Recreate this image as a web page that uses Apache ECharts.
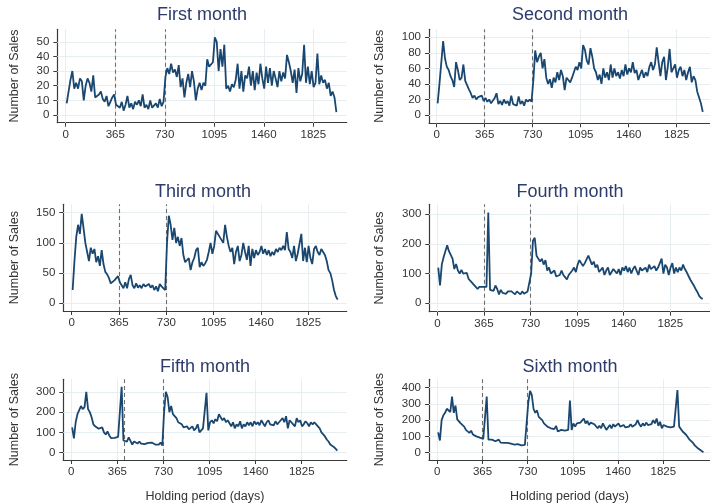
<!DOCTYPE html>
<html><head><meta charset="utf-8">
<script src="https://cdn.jsdelivr.net/npm/echarts@6/dist/echarts.min.js"></script>
<style>html,body{margin:0;padding:0;background:#fff}#c{width:710px;height:504px}</style>
</head><body><div id="c"></div>
<script>
// holding period (days), sampled every two weeks
const days = [7,21,35,49,63,77,91,105,119,133,147,161,175,189,203,217,231,245,259,273,
287,301,315,329,343,357,371,385,399,413,427,441,455,469,483,497,511,525,539,553,
567,581,595,609,623,637,651,665,679,693,707,721,735,749,763,777,791,805,819,833,
847,861,875,889,903,917,931,945,959,973,987,1001,1015,1029,1043,1057,1071,1085,1099,1113,
1127,1141,1155,1169,1183,1197,1211,1225,1239,1253,1267,1281,1295,1309,1323,1337,1351,1365,1379,1393,
1407,1421,1435,1449,1463,1477,1491,1505,1519,1533,1547,1561,1575,1589,1603,1617,1631,1645,1659,1673,
1687,1701,1715,1729,1743,1757,1771,1785,1799,1813,1827,1841,1855,1869,1883,1897,1911,1925,1939,1953,
1967,1981,1995,2009,2023,2037,2051,2065,2079,2093,2107,2121,2135,2149];

const month1 = [8,16,24,30,18,22,18,25,23,10,20,25,22,16,27,12,13,14,16,11,
9,13,6,9,12,14,7,8,5,9,3,7,13,5,8,4,9,7,10,6,
14,5,7,4,10,5,6,8,5,11,6,9,26,32,28,35,29,31,26,34,
19,25,12,22,28,19,30,23,10,18,22,17,22,20,38,33,32,36,53,50,
30,45,33,48,18,20,16,21,19,24,35,18,30,16,27,25,33,20,30,17,
29,21,35,25,18,33,22,32,20,30,25,19,30,23,29,25,41,36,30,22,
31,15,32,23,28,48,22,33,21,30,19,22,42,21,27,22,24,18,22,13,
16,12,2];

const month2 = [15,40,42,95,73,62,58,50,45,36,68,58,45,48,65,44,46,33,28,22,
25,20,23,21,25,18,22,17,20,15,17,22,28,14,18,13,20,15,18,12,
25,14,16,12,24,14,18,12,20,17,20,17,45,83,68,75,80,60,72,48,
40,46,35,48,42,55,45,58,50,32,48,45,42,48,55,62,58,68,60,90,
84,70,65,86,75,60,55,45,52,40,60,48,55,45,65,48,60,50,55,47,
58,50,65,52,60,55,68,54,58,45,52,58,48,55,50,62,68,58,65,87,
68,50,68,75,45,62,85,55,60,65,48,58,62,50,58,45,55,62,42,50,
45,30,28,15,4];

const month3 = [22,70,110,130,115,148,125,100,85,70,92,82,90,68,78,62,88,65,52,48,
42,33,32,38,35,45,35,38,25,35,25,40,47,30,25,33,26,30,25,32,
28,25,32,26,30,22,28,20,32,28,30,22,100,145,130,105,125,100,110,95,
108,80,68,70,75,55,68,75,88,92,60,68,62,66,72,85,100,82,95,120,
118,110,112,100,130,110,95,85,92,65,85,95,70,80,100,85,72,95,62,90,
75,88,80,85,95,82,90,80,88,78,85,80,90,85,92,88,95,88,118,90,
85,75,95,70,82,80,115,70,92,68,95,75,65,90,95,85,80,90,85,80,
70,55,50,38,22,12,6];

const month4 = [120,60,130,155,160,195,175,178,150,115,132,110,100,112,100,95,102,82,75,70,
62,55,48,55,58,55,60,55,305,45,45,42,60,48,30,45,35,40,32,40,
35,40,35,30,40,35,30,40,32,38,40,35,100,210,220,160,150,140,150,130,
145,110,120,100,95,110,90,85,95,110,95,88,80,95,90,110,120,105,130,145,
140,125,135,140,160,145,130,140,120,130,105,100,120,95,110,120,95,105,115,120,
100,115,95,120,110,125,105,120,100,115,125,110,95,120,110,115,120,105,130,115,
120,125,110,120,115,150,100,130,120,95,120,135,100,120,105,120,110,130,115,105,
100,80,85,60,48,38,25,18,15];

const month5 = [125,70,150,190,198,230,215,225,300,215,200,175,140,130,135,118,110,125,100,90,
105,85,72,70,73,75,78,82,325,60,65,55,75,58,40,55,50,45,55,45,
50,42,40,48,42,50,45,40,45,40,50,35,200,300,275,200,230,190,185,170,
150,145,140,125,120,130,115,120,130,110,120,140,100,110,120,125,295,110,150,160,
145,165,155,190,175,160,170,150,160,145,130,150,120,140,130,155,120,140,130,150,
135,150,130,155,140,150,135,160,145,130,150,160,140,145,135,155,140,150,160,170,
150,180,120,160,150,140,130,170,150,160,130,140,155,145,130,150,140,150,140,130,
120,100,90,80,65,55,40,35,28,20,10];

const month6 = [125,75,200,230,245,270,258,250,345,245,290,205,215,180,168,160,140,150,122,135,
112,105,100,95,92,88,85,95,345,80,75,80,92,70,60,80,62,65,60,70,
60,62,55,60,50,58,52,55,45,55,48,40,310,380,355,270,245,260,220,230,
200,180,170,160,155,150,148,145,165,130,135,140,150,135,130,140,320,140,180,160,
180,170,185,175,210,180,195,170,185,190,175,180,150,165,150,180,160,140,155,170,
150,175,160,170,180,160,165,170,155,165,160,175,160,165,175,200,175,160,180,165,
185,170,160,175,200,180,210,165,190,150,170,180,160,170,155,165,160,170,385,160,
150,130,120,110,95,80,70,60,45,35,25,18,10,3];

const xTicks = [0,365,730,1095,1460,1825];
const yTicks1 = [0,10,20,30,40,50];
const yTicks2 = [0,20,40,60,80,100];
const yTicks3 = [0,50,100,150];
const yTicks4 = [0,100,200,300];
const yTicks5 = [0,100,200,300];
const yTicks6 = [0,100,200,300,400];
const cutoffs1 = [365,730];
const cutoffs2 = [365,730];
const cutoffs3 = [365,730];
const cutoffs4 = [365,730];
const cutoffs5 = [418,730];
const cutoffs6 = [365,730];
const titles = ['First month','Second month','Third month','Fourth month','Fifth month','Sixth month'];
const yName = 'Number of Sales';
const xName = 'Holding period (days)';

const FONT = '"Liberation Sans", Arial, Helvetica, sans-serif';
const panels = [
  {vals:month1, yT:yTicks1, cut:cutoffs1, g:[57.3,29.3,289.4,93.4], xr:[-62,2071], yr:[-5.25,58.5], ng:36, tx:202, ty:6},
  {vals:month2, yT:yTicks2, cut:cutoffs2, g:[429,29.3,281,94], xr:[-58.5,2078], yr:[-10.7,110.3], ng:43, tx:570, ty:6},
  {vals:month3, yT:yTicks3, cut:cutoffs3, g:[63.3,204.3,283.4,106.7], xr:[-65,2121], yr:[-12.7,163.9], ng:42, tx:203, ty:182.7},
  {vals:month4, yT:yTicks4, cut:cutoffs4, g:[429.3,204.3,280.7,107.4], xr:[-63,2136], yr:[-28.2,332.6], ng:43, tx:570, ty:182.7},
  {vals:month5, yT:yTicks5, cut:cutoffs5, g:[63.3,379.3,283.4,81.4], xr:[-63,2181], yr:[-36.2,362], ng:42, tx:205, ty:357.7, xn:true},
  {vals:month6, yT:yTicks6, cut:cutoffs6, g:[429,379.3,281,81.4], xr:[-67,2202], yr:[-45,451], ng:43, tx:570, ty:357.7, xn:true}
];

const axisCol = '#3a3a3a';
const plain = v => String(Math.round(v));
const option = {backgroundColor:'#fff', animation:false, title:[], grid:[], xAxis:[], yAxis:[], series:[]};
panels.forEach((p,i)=>{
  option.title.push({text:titles[i], left:p.tx, top:p.ty, textAlign:'center', padding:0,
    textStyle:{fontFamily:FONT, fontSize:18, fontWeight:'normal', color:'#2c3b6b'}});
  option.grid.push({left:p.g[0], top:p.g[1], width:p.g[2], height:p.g[3], containLabel:false});
  option.xAxis.push({type:'value', gridIndex:i, min:p.xr[0], max:p.xr[1],
    axisLine:{show:true, onZero:false, lineStyle:{color:axisCol, width:1.2}},
    axisTick:{show:true, customValues:xTicks, length:4, lineStyle:{color:axisCol}},
    axisLabel:{show:true, customValues:xTicks, formatter:plain, fontFamily:FONT, fontSize:11.5, color:'#333', margin:6},
    splitLine:{show:false},
    name: p.xn ? xName : '', nameLocation:'middle', nameGap:30,
    nameTextStyle:{fontFamily:FONT, fontSize:12.5, color:'#333'}});
  option.yAxis.push({type:'value', gridIndex:i, min:p.yr[0], max:p.yr[1],
    axisLine:{show:true, onZero:false, lineStyle:{color:axisCol, width:1.2}},
    axisTick:{show:true, customValues:p.yT, length:4, lineStyle:{color:axisCol}},
    axisLabel:{show:true, customValues:p.yT, formatter:plain, fontFamily:FONT, fontSize:11.5, color:'#333', margin:8},
    splitLine:{show:false},
    name:yName, nameLocation:'middle', nameRotate:90, nameGap:p.ng,
    nameTextStyle:{fontFamily:FONT, fontSize:12.5, color:'#333'}});
  // grid lines
  option.series.push({type:'line', xAxisIndex:i, yAxisIndex:i, data:[], z:1, silent:true,
    markLine:{silent:true, z:1, symbol:['none','none'], label:{show:false}, animation:false,
      lineStyle:{color:'#e6eef1', width:1, type:'solid'},
      emphasis:{disabled:true},
      data:[...xTicks.map(v=>({xAxis:v})), ...p.yT.map(v=>({yAxis:v}))]}});
  // cutoff lines
  option.series.push({type:'line', xAxisIndex:i, yAxisIndex:i, data:[], z:2, silent:true,
    markLine:{silent:true, z:2, symbol:['none','none'], label:{show:false}, animation:false,
      lineStyle:{color:'#6f6f6f', width:1.1, type:[4,3]},
      emphasis:{disabled:true},
      data:p.cut.map(v=>({xAxis:v}))}});
  option.series.push({type:'line', xAxisIndex:i, yAxisIndex:i, z:3, symbol:'none', showSymbol:false,
    lineStyle:{color:'#1a476f', width:1.8}, silent:true,
    data:p.vals.map((v,k)=>[days[k], v])});
});
const chart = echarts.init(document.getElementById('c'), null, {renderer:'canvas'});
chart.setOption(option);
</script></body></html>
